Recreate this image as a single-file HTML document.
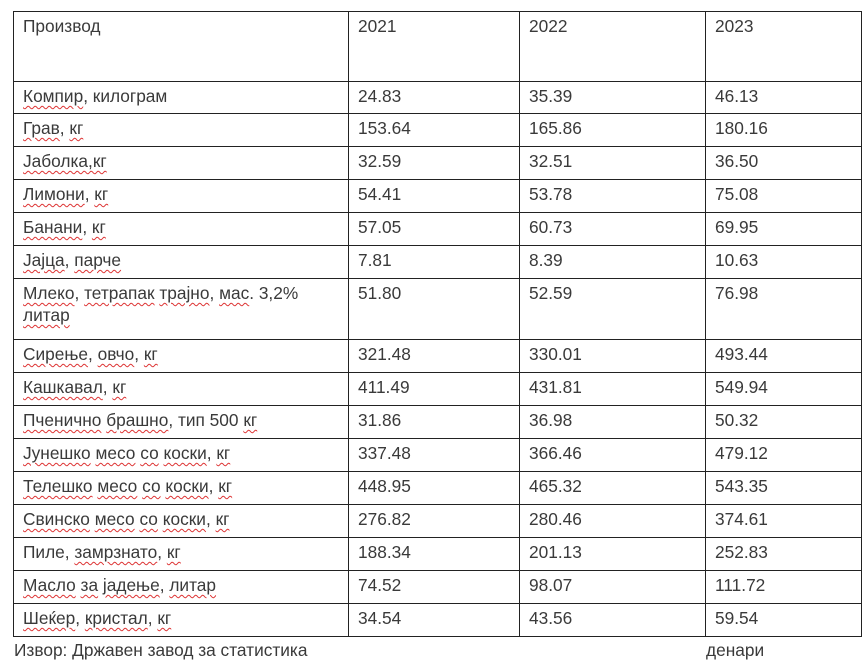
<!DOCTYPE html>
<html><head><meta charset="utf-8"><style>
body{margin:0;background:#fff;width:867px;height:665px;overflow:hidden;font-family:"Liberation Sans",sans-serif;color:#3a3a3a;}
table{position:absolute;left:13px;top:11px;border-collapse:collapse;table-layout:fixed;}
td{border:1.3px solid #222;vertical-align:top;padding:3px 0 0 9px;font-size:17.3px;line-height:22px;box-sizing:border-box;white-space:nowrap;}
.w{text-decoration:underline wavy #d33;text-decoration-thickness:1px;text-underline-offset:3px;}
.src{position:absolute;top:640px;font-size:17.3px;}
</style></head><body>
<table>
<colgroup><col style="width:335px"><col style="width:171px"><col style="width:186px"><col style="width:156px"></colgroup>
<tr style="height:70px"><td>Производ</td><td>2021</td><td>2022</td><td>2023</td></tr>
<tr style="height:32px"><td><span class="w">Компир</span>, килограм</td><td>24.83</td><td>35.39</td><td>46.13</td></tr>
<tr style="height:33px"><td><span class="w">Грав</span>, <span class="w">кг</span></td><td>153.64</td><td>165.86</td><td>180.16</td></tr>
<tr style="height:33px"><td><span class="w">Јаболка,кг</span></td><td>32.59</td><td>32.51</td><td>36.50</td></tr>
<tr style="height:33px"><td><span class="w">Лимони</span>, <span class="w">кг</span></td><td>54.41</td><td>53.78</td><td>75.08</td></tr>
<tr style="height:33px"><td><span class="w">Банани</span>, <span class="w">кг</span></td><td>57.05</td><td>60.73</td><td>69.95</td></tr>
<tr style="height:33px"><td><span class="w">Јајца</span>, <span class="w">парче</span></td><td>7.81</td><td>8.39</td><td>10.63</td></tr>
<tr style="height:61px"><td><span class="w">Млеко</span>, <span class="w">тетрапак</span> <span class="w">трајно</span>, <span class="w">мас</span>. 3,2%<br><span class="w">литар</span></td><td>51.80</td><td>52.59</td><td>76.98</td></tr>
<tr style="height:33px"><td><span class="w">Сирење</span>, <span class="w">овчо</span>, <span class="w">кг</span></td><td>321.48</td><td>330.01</td><td>493.44</td></tr>
<tr style="height:33px"><td><span class="w">Кашкавал</span>, <span class="w">кг</span></td><td>411.49</td><td>431.81</td><td>549.94</td></tr>
<tr style="height:33px"><td><span class="w">Пченично</span> <span class="w">брашно</span>, тип 500 <span class="w">кг</span></td><td>31.86</td><td>36.98</td><td>50.32</td></tr>
<tr style="height:33px"><td><span class="w">Јунешко</span> <span class="w">месо</span> <span class="w">со</span> <span class="w">коски</span>, <span class="w">кг</span></td><td>337.48</td><td>366.46</td><td>479.12</td></tr>
<tr style="height:33px"><td><span class="w">Телешко</span> <span class="w">месо</span> <span class="w">со</span> <span class="w">коски</span>, <span class="w">кг</span></td><td>448.95</td><td>465.32</td><td>543.35</td></tr>
<tr style="height:33px"><td><span class="w">Свинско</span> <span class="w">месо</span> <span class="w">со</span> <span class="w">коски</span>, <span class="w">кг</span></td><td>276.82</td><td>280.46</td><td>374.61</td></tr>
<tr style="height:33px"><td>Пиле, <span class="w">замрзнато</span>, <span class="w">кг</span></td><td>188.34</td><td>201.13</td><td>252.83</td></tr>
<tr style="height:33px"><td><span class="w">Масло</span> <span class="w">за</span> <span class="w">јадење</span>, <span class="w">литар</span></td><td>74.52</td><td>98.07</td><td>111.72</td></tr>
<tr style="height:33px"><td><span class="w">Шеќер</span>, <span class="w">кристал</span>, <span class="w">кг</span></td><td>34.54</td><td>43.56</td><td>59.54</td></tr>
</table>
<div class="src" style="left:14px">Извор: Државен завод за статистика</div>
<div class="src" style="left:706px">денари</div>
</body></html>
